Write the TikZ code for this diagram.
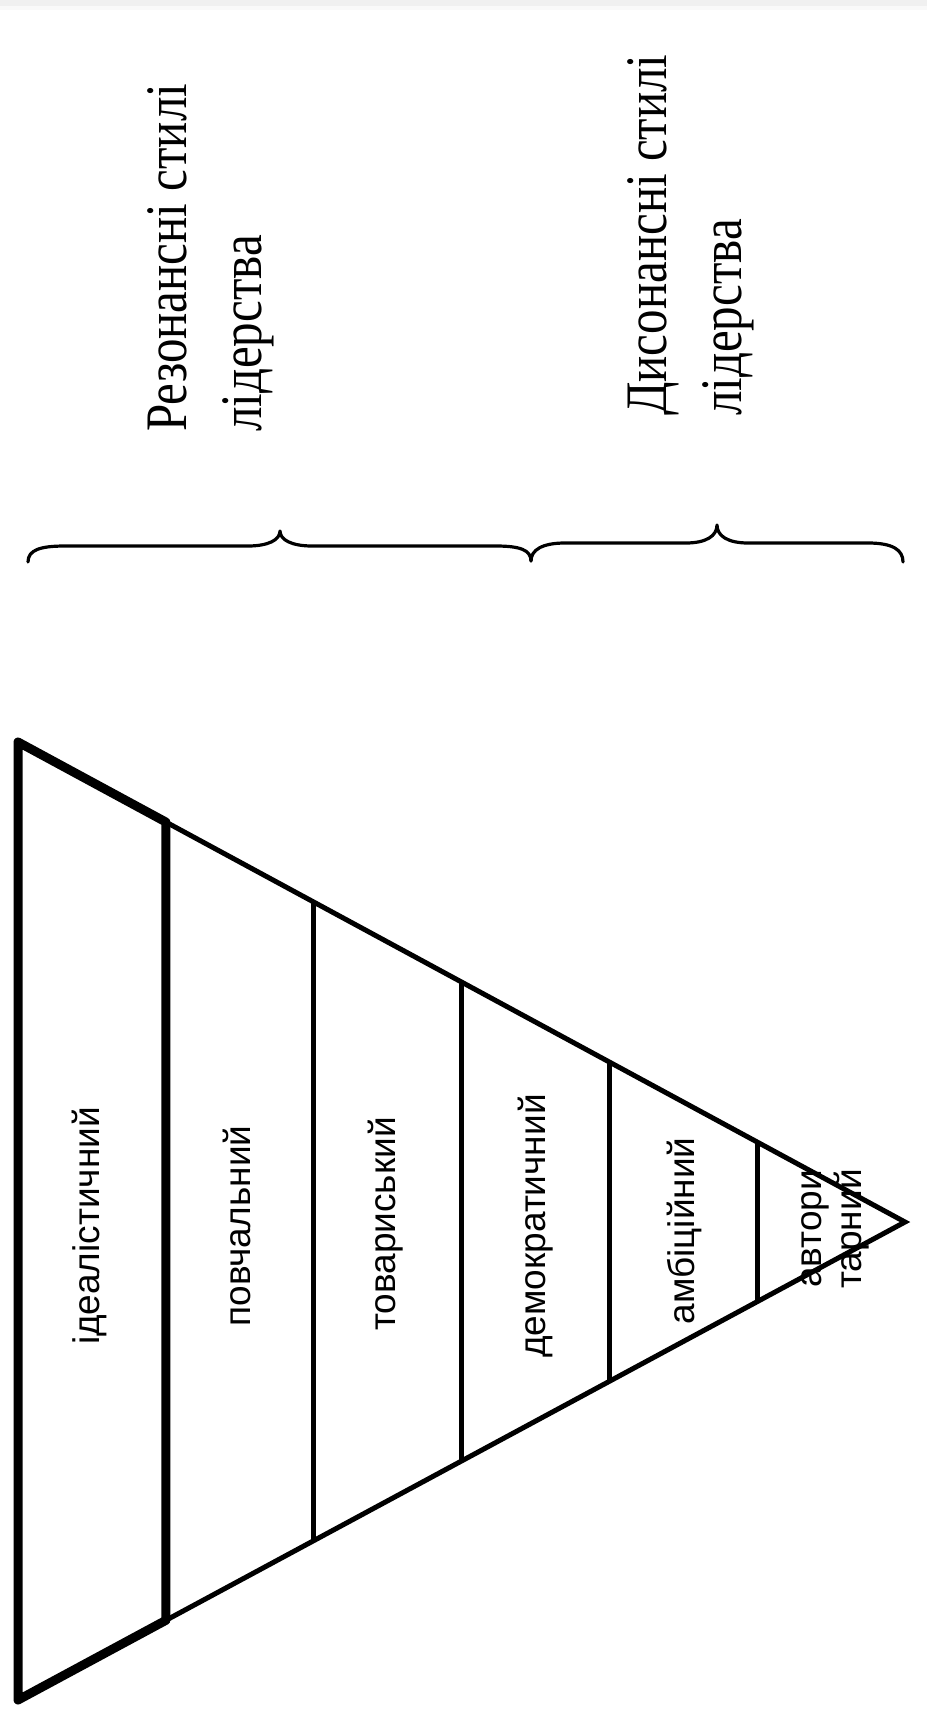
\documentclass[tikz,border=0pt]{standalone}
\usepackage{fontspec}
\setmainfont{Liberation Serif}
\newfontfamily\lblfont{Liberation Sans}
\usetikzlibrary{calc}
\begin{document}
\begin{tikzpicture}[x=1pt,y=1pt,
  thickedge/.style={line width=9pt, line join=round},
  thinedge/.style={line width=5pt},
  bracestyle/.style={line width=3.2pt, line cap=round, line join=round},
  lbl/.style={rotate=90, font=\lblfont\fontsize{37}{40}\selectfont, inner sep=0pt, align=center},
  hdr/.style={rotate=90, inner sep=0pt, anchor=north west}]
\useasboundingbox (0,0) rectangle (927,-1716);
\fill[gray!12] (0,0) rectangle (927,-6);
\fill[gray!5] (0,-6) rectangle (927,-10);
% triangle
\coordinate (A) at (18,-742);
\coordinate (B) at (18,-1700);
\coordinate (C) at (905,-1222);
\coordinate (A1) at ($(A)!1/6!(C)$);
\coordinate (B1) at ($(B)!1/6!(C)$);
\draw[thinedge, line join=miter] (A1) -- (C) -- (B1);
\foreach \k in {2,3,4,5}{
  \draw[thinedge] ($(A)!\k/6!(C)$) -- ($(B)!\k/6!(C)$);
}
\draw[thickedge] (A) -- (A1) -- (B1) -- (B) -- cycle;
% labels
\node[lbl] (l1) at (89,-1226) {ідеалістичний};
\node[lbl] (l2) at (237,-1226) {повчальний};
\node[lbl] (l3) at (386,-1224) {товариський};
\node[lbl] (l4) at (536,-1226) {демократичний};
\node[lbl] (l5) at (684,-1231) {амбіційний};
\node[lbl] (l6) at (835,-1229) {автори\\тарний};
% braces
\draw[bracestyle] (28,-562) .. controls (28,-550) and (40,-546) .. (65,-546)
  -- (248,-546) .. controls (268,-546) and (280,-540) .. (280,-531)
  .. controls (280,-540) and (292,-546) .. (312,-546)
  -- (496,-546) .. controls (520,-546) and (531,-550) .. (531,-561);
\draw[bracestyle] (531,-561) .. controls (531,-550) and (542,-543) .. (565,-543)
  -- (686,-543) .. controls (706,-543) and (717,-536) .. (717,-525)
  .. controls (717,-536) and (728,-543) .. (748,-543)
  -- (868,-543) .. controls (893,-543) and (903,-550) .. (903,-562);
% headers
\node[hdr] (h1) at (133,-432) {\scalebox{1}[1.2]{\fontsize{49}{63}\selectfont\begin{tabular}{@{}l@{}}Резонансні стилі\\лідерства\end{tabular}}};
\node[hdr] (h2) at (613,-416) {\scalebox{1}[1.2]{\fontsize{49}{63}\selectfont\begin{tabular}{@{}l@{}}Дисонансні стилі\\лідерства\end{tabular}}};
\end{tikzpicture}
\end{document}
